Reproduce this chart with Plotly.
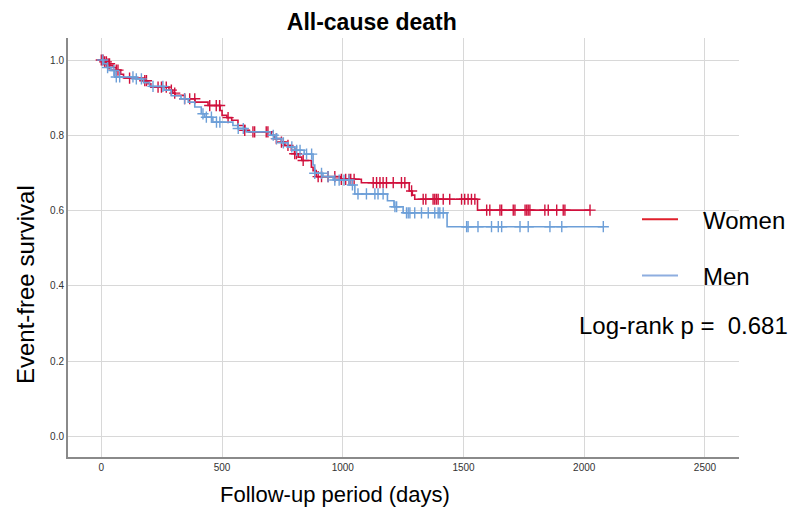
import numpy as np
import plotly.graph_objects as go

# ---- data ----
women_times = [0, 10, 22, 35, 50, 62, 80, 92, 180, 193, 205, 280, 296, 305, 345, 388, 442, 492, 500,
               520, 540, 566, 594, 612, 704, 716, 746, 760, 787, 800, 815, 830, 870, 877, 890, 990,
               1077, 1275, 1288, 1298, 1558]
women_surv = [1.0, .995, .99, .985, .98, .973, .962, .952, .945, .937, .928, .92, .912, .906, .897, .888,
              .879, .866, .853, .847, .84, .826, .813, .809, .80, .791, .782, .773, .76, .751, .742, .733,
              .715, .706, .69, .683, .674, .652, .641, .63, .601]
women_end = 2024
women_censor = [0, 7, 14, 21, 28, 34, 62, 69, 117, 180, 187, 235, 249, 269, 290, 304, 345, 366, 387,
                449, 476, 490, 525, 594, 628, 635, 683, 690, 725, 746, 773, 801, 808, 836, 898, 912,
                939, 967, 994, 1012, 1026, 1033, 1047, 1126, 1140, 1154, 1167, 1181, 1209, 1243, 1257,
                1285, 1333, 1344, 1374, 1381, 1388, 1395, 1416, 1443, 1492, 1505, 1519, 1533, 1547,
                1596, 1609, 1651, 1658, 1706, 1713, 1755, 1762, 1768, 1775, 1837, 1851, 1886, 1913,
                1920, 2024]

men_times = [0, 10, 25, 40, 55, 140, 175, 200, 260, 290, 330, 360, 387, 414, 428, 462, 545, 565, 600,
             700, 720, 746, 773, 800, 840, 877, 884, 918, 960, 1030, 1050, 1185, 1212, 1250, 1432]
men_surv = [1.0, .99, .98, .972, .955, .95, .94, .93, .92, .905, .897, .888, .875, .857, .848, .835,
            .826, .818, .809, .80, .791, .78, .769, .76, .75, .721, .699, .69, .681, .668, .644, .626,
            .61, .594, .557]
men_end = 2079
men_censor = [5, 26, 52, 62, 76, 131, 145, 166, 214, 255, 345, 421, 435, 456, 477, 491, 567, 588, 712,
              726, 754, 789, 809, 823, 850, 871, 884, 912, 939, 967, 985, 1005, 1026, 1040, 1063, 1098,
              1133, 1146, 1167, 1216, 1223, 1264, 1271, 1278, 1298, 1326, 1354, 1381, 1395, 1402, 1416,
              1513, 1519, 1560, 1616, 1644, 1658, 1734, 1768, 1858, 1907, 2079]

x_ticks = [0, 500, 1000, 1500, 2000, 2500]
y_ticks = [0.0, 0.2, 0.4, 0.6, 0.8, 1.0]

RED = "#d0103c"
BLUE = "#6d9fd8"
FONT = "Arial, Liberation Sans, sans-serif"
NB = "\u00a0"


def surv_at(times, surv, t):
    idx = np.searchsorted(np.array(times), np.array(t), side="right") - 1
    return list(np.array(surv)[idx])


fig = go.Figure()

for name, times, surv, end, cens, col, grp in [
    ("Women", women_times, women_surv, women_end, women_censor, RED, "w"),
    ("Men", men_times, men_surv, men_end, men_censor, BLUE, "m"),
]:
    fig.add_trace(go.Scatter(
        x=times + [end], y=surv + [surv[-1]], mode="lines", line=dict(color=col, width=1.6, shape="hv"),
        name=name, legendgroup=grp, showlegend=False))
    fig.add_trace(go.Scatter(
        x=cens, y=surv_at(times, surv, cens), mode="markers",
        marker=dict(symbol="cross-thin", size=8, line=dict(color=col, width=1.4)),
        legendgroup=grp, showlegend=False, hoverinfo="skip"))

# legend entries
fig.add_trace(go.Scatter(x=[None], y=[None], mode="lines", line=dict(color="#e0202c", width=2),
                         name=NB * 3 + "Women", legendgroup="w1"))
fig.add_trace(go.Scatter(x=[None], y=[None], mode="lines", line=dict(color="#8eaee0", width=2),
                         name=NB * 3 + "Men", legendgroup="m1"))

fig.update_layout(
    width=791, height=507,
    margin=dict(l=68, r=52, t=38, b=50, autoexpand=False),
    paper_bgcolor="white", plot_bgcolor="white",
    font=dict(family=FONT, color="#000"),
    title=dict(text="<b>All-cause death</b>", x=0.47, xanchor="center", xref="container",
               y=1 - 22 / 507, yanchor="middle", yref="container",
               font=dict(size=23, color="#000", family=FONT)),
    showlegend=True,
    legend=dict(x=(637 - 68) / 671, xanchor="left", y=0.62, yanchor="top", bgcolor="rgba(0,0,0,0)",
                font=dict(size=24, color="#000"), tracegroupgap=22, itemwidth=36,
                traceorder="grouped"),
    xaxis=dict(range=[-138, 2641], tickvals=x_ticks, ticktext=[str(v) for v in x_ticks],
               showgrid=True, gridcolor="#d8d8d8", gridwidth=1, zeroline=False,
               showline=True, linecolor="#8a8a8a", linewidth=2, ticks="",
               tickfont=dict(size=10, color="#333")),
    yaxis=dict(range=[-0.055, 1.0585], tickvals=y_ticks, ticktext=[f"{v:.1f}" for v in y_ticks],
               showgrid=True, gridcolor="#d8d8d8", gridwidth=1, zeroline=False,
               showline=True, linecolor="#8a8a8a", linewidth=2, ticks="",
               tickfont=dict(size=10, color="#333")),
    annotations=[
        dict(text="Follow-up period (days)", xref="paper", yref="paper",
             x=(335 - 68) / 671, y=-(494 - 457) / 419, xanchor="center", yanchor="middle",
             showarrow=False, font=dict(size=22, color="#000")),
        dict(text="Event-free survival", xref="paper", yref="paper", textangle=-90,
             x=(25 - 68) / 671, y=1 - (285 - 38) / 419, xanchor="center", yanchor="middle",
             showarrow=False, font=dict(size=24, color="#000")),
        dict(text="Log-rank p =" + NB + " 0.681", xref="paper", yref="paper",
             x=(577 - 68) / 671, y=1 - (325 - 38) / 419, xanchor="left", yanchor="middle",
             showarrow=False, font=dict(size=24, color="#000")),
    ],
)

fig.write_html("out.html", config={"displayModeBar": False},
               post_script="document.body.style.margin='0';")
